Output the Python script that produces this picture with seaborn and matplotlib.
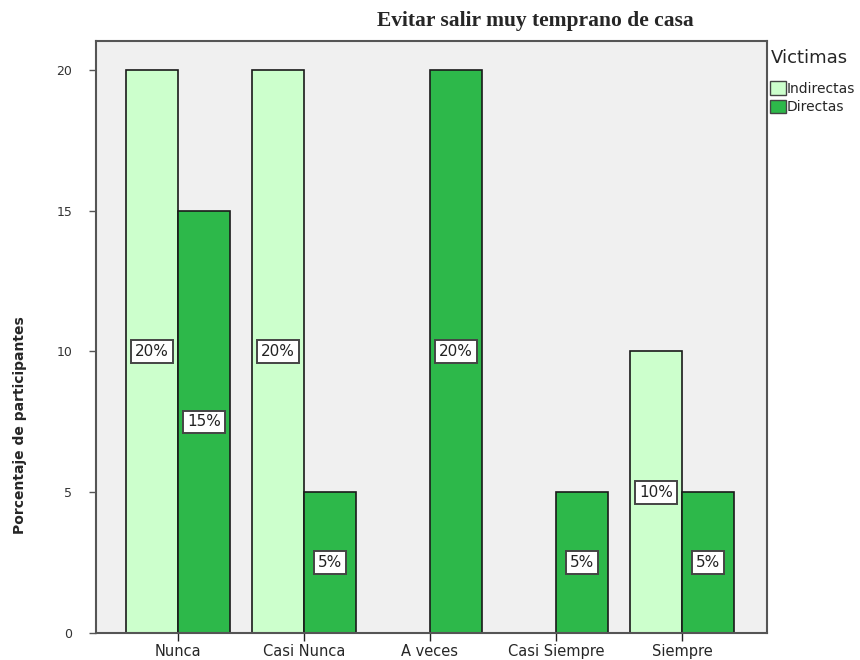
import matplotlib
matplotlib.use("Agg")
import matplotlib.pyplot as plt
import seaborn as sns
import pandas as pd
from matplotlib.patches import Patch

categories = ["Nunca", "Casi Nunca", "A veces", "Casi Siempre", "Siempre"]
indirectas = [20, 20, 0, 0, 10]
directas = [15, 5, 20, 5, 5]
series_names = ["Indirectas", "Directas"]
yticks = [0, 5, 10, 15, 20]

df = pd.DataFrame({
    "cat": categories * 2,
    "val": indirectas + directas,
    "grp": [series_names[0]] * len(categories) + [series_names[1]] * len(categories),
})

sns.set_style("white")
plt.rcParams["font.family"] = ["DejaVu Sans"]

light = "#CCFFCC"
dark = "#2DB84A"

fig = plt.figure(figsize=(8.6, 6.6), dpi=100)
ax = fig.add_axes([96/860, 1-633/660, (767-96)/860, (633-41)/660])
ax.set_facecolor("#F0F0F0")

sns.barplot(data=df, x="cat", y="val", hue="grp", order=categories,
            hue_order=series_names, palette=[light, dark], width=0.83,
            edgecolor="#1a1a1a", linewidth=1.2, ax=ax, legend=False,
            saturation=1)

for cont in ax.containers:
    for bar in cont:
        h = bar.get_height()
        if h <= 0:
            continue
        ax.text(bar.get_x() + bar.get_width()/2, h/2, f"{int(h)}%",
                ha="center", va="center", fontsize=11, color="#222222",
                bbox=dict(boxstyle="square,pad=0.25", fc="white", ec="#444444", lw=1.4))

ax.set_xlim(-0.65, 4.675)
ax.set_ylim(0, 21.03)
ax.set_yticks(yticks)
ax.set_yticklabels([str(t) for t in yticks], fontsize=9, color="#333333")
ax.tick_params(axis="y", direction="out", length=5, width=1, color="#555555", left=True, pad=12)
ax.tick_params(axis="x", direction="out", length=6, width=1, color="#222222", bottom=True, labelsize=10.5, pad=2)
ax.set_xlabel("")
ax.set_ylabel("")
for s in ax.spines.values():
    s.set_color("#555555")
    s.set_linewidth(1.5)
    s.set_visible(True)

fig.text(535/860, 1-21/660, "Evitar salir muy temprano de casa", ha="center", va="center",
         fontsize=15.5, fontweight="bold", family="Liberation Serif")
fig.text(20/860, 1-425/660, "Porcentaje de participantes", rotation=90, ha="center", va="center",
         fontsize=10, fontweight="bold")

handles = [Patch(facecolor=light, edgecolor="#444444", label=series_names[0]),
           Patch(facecolor=dark, edgecolor="#444444", label=series_names[1])]
leg = fig.legend(handles=handles, title="Victimas", loc="upper left",
                 bbox_to_anchor=(769/860, 1-48/660), frameon=False, fontsize=10,
                 title_fontsize=13, handlelength=1.1, handleheight=1.1,
                 handletextpad=0.1, labelspacing=0.3, borderaxespad=0, borderpad=0.1)
leg._legend_box.align = "left"
leg._legend_box.sep = 10

fig.savefig("out.png", dpi=100)
